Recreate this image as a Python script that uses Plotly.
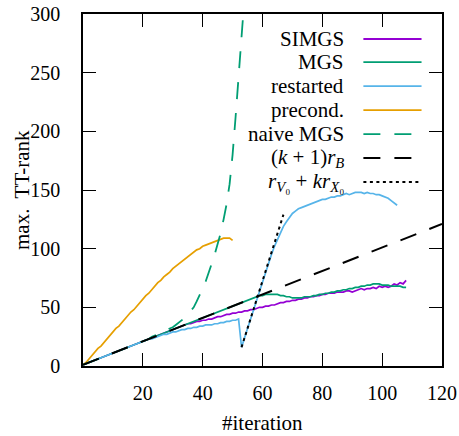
import plotly.graph_objects as go

# ---------------- data ----------------
simgs = [1, 2, 3, 4, 5, 6, 7, 8, 9, 10, 11, 12, 13, 14, 15, 16, 17, 18, 19, 20,
         21, 22, 23, 24, 25, 26, 27, 28, 29, 30, 31, 32, 33, 34, 35,
         36, 36, 37, 38, 38, 39, 39, 40, 40, 41, 42, 42, 43, 44, 44,
         45, 45, 46, 46, 47, 47, 48, 48, 49, 50, 50, 51, 51, 52, 52,
         53, 54, 54, 55, 55, 56, 56, 57, 57, 58, 58, 59, 59, 60, 60,
         61, 61, 62, 62, 62, 63, 63, 63, 64, 64, 63, 64, 65, 66, 65,
         66, 66, 67, 66, 68, 67, 68, 67, 68, 70, 69, 71, 70, 73]

mgs = [1, 2, 3, 4, 5, 6, 7, 8, 9, 10, 11, 12, 13, 14, 15, 16, 17, 18, 19, 20,
       21, 22, 23, 24, 25, 26, 27, 28, 29, 30, 31, 32, 33, 34, 35, 36, 37, 38,
       39, 40, 41, 42, 43, 44, 45, 46, 47, 48, 49, 50, 51, 52, 53,
       54, 55, 56, 57, 58, 59, 60, 60, 61, 61, 61, 61, 61, 60, 60, 59, 59,
       58, 58, 58, 58, 59, 59, 59, 60, 60, 61, 61, 62, 62, 63, 63, 64, 64,
       65, 65, 66, 66, 67, 67, 68, 68, 69, 69, 70, 70, 70, 69, 69, 69, 68,
       68, 68, 68, 67, 67]

restarted = [1, 2, 3, 4, 5, 6, 7, 8, 9, 10, 11, 12, 13, 14, 15, 16, 17, 18, 19, 20,
             21, 22, 23, 23, 24, 25, 26, 27, 27, 28, 29, 29, 30, 31, 31, 32, 32,
             33, 33, 34, 34, 35, 35, 35, 36, 36, 37, 37, 38, 38, 39, 39, 40,
             16, 24, 32, 40, 48, 57, 65, 73, 80, 88, 95, 102, 108, 114, 119,
             123, 127, 130, 132, 134, 135, 136, 137, 138, 139, 140, 141, 142,
             142, 143, 144, 144, 145, 145, 146, 147, 146, 147, 148, 148, 148,
             147, 148, 147, 147, 146, 146, 145, 144, 143, 141, 139, 137]

precond = [1, 3, 6, 9, 12, 15, 17, 20, 23, 26, 29, 32, 34, 37, 40, 43, 46, 48,
           51, 54, 57, 60, 62, 65, 68, 71, 73, 76, 78, 80, 83, 85, 87, 89, 91,
           93, 95, 97, 99, 100, 102, 103, 104, 105, 106, 107, 108, 109, 109,
           109, 107]

naive = [1, 2, 3, 4, 5, 6, 7, 8, 9, 10, 11, 12, 13, 14, 15, 16, 17, 18, 19, 20,
         21, 22, 23, 25, 26, 27, 28, 29, 30, 32, 33, 35, 37, 39, 41, 44, 47,
         50, 55, 60, 66, 72, 79, 87, 95, 104, 113, 125, 138, 155, 180, 212,
         250, 285, 315]

bound_k = [0, 120]
bound_vals = [1, 121]

restart_k = [53, 67]
restart_vals = [16, 129]

x_ticks = [20, 40, 60, 80, 100, 120]
y_ticks = [0, 50, 100, 150, 200, 250, 300]

legend_labels = ["SIMGS", "MGS", "restarted", "precond.", "naive MGS",
                 "(<i>k</i> + 1)<i>r</i><sub><i>B</i></sub>",
                 "<i>r</i><sub><i>V</i>₀</sub> + <i>kr</i><sub><i>X</i>₀</sub>"]

# ---------------- styles ----------------
PURPLE = "#9400d3"
GREEN = "#009e73"
BLUE = "#56b4e9"
ORANGE = "#e69f00"
DASH = "17px,14px"
DOT = "3px,3.5px"
FONT = "Liberation Serif"

series = [
    (simgs, dict(color=PURPLE, width=1.7)),
    (mgs, dict(color=GREEN, width=1.7)),
    (restarted, dict(color=BLUE, width=1.7)),
    (precond, dict(color=ORANGE, width=1.7)),
    (naive, dict(color=GREEN, width=1.8, dash=DASH)),
]

fig = go.Figure()
for vals, line in series:
    fig.add_trace(go.Scatter(x=list(range(len(vals))), y=vals, mode="lines",
                             line=line, showlegend=False, hoverinfo="skip"))
fig.add_trace(go.Scatter(x=bound_k, y=bound_vals, mode="lines",
                         line=dict(color="black", width=2, dash=DASH),
                         showlegend=False, hoverinfo="skip"))
fig.add_trace(go.Scatter(x=restart_k, y=restart_vals, mode="lines",
                         line=dict(color="black", width=2, dash=DOT),
                         showlegend=False, hoverinfo="skip"))

# ---------------- manual legend (gnuplot style) ----------------
legend_styles = [
    dict(color=PURPLE, width=1.8),
    dict(color=GREEN, width=1.8),
    dict(color=BLUE, width=1.8),
    dict(color=ORANGE, width=1.8),
    dict(color=GREEN, width=1.8, dash=DASH),
    dict(color="black", width=2, dash=DASH),
    dict(color="black", width=2, dash=DOT),
]
row_y = [0.929, 0.863, 0.795, 0.727, 0.659, 0.591, 0.523]
annotations = []
shapes = []
for lbl, st, yy in zip(legend_labels, legend_styles, row_y):
    annotations.append(dict(x=0.732, y=yy, xref="paper", yref="paper",
                            text=lbl, showarrow=False, xanchor="right",
                            yanchor="middle", font=dict(family=FONT, size=21, color="black")))
    shapes.append(dict(type="line", xref="paper", yref="paper",
                       x0=0.781, x1=0.943, y0=yy, y1=yy, line=st))

annotations.append(dict(x=0.5, y=-0.162, xref="paper", yref="paper",
                        text="#iteration", showarrow=False, xanchor="center",
                        yanchor="middle", font=dict(family=FONT, size=21, color="black")))
annotations.append(dict(x=-0.17, y=0.5, xref="paper", yref="paper",
                        text="max.  TT-rank", showarrow=False, textangle=-90,
                        xanchor="center", yanchor="middle",
                        font=dict(family=FONT, size=21, color="black")))

axis_common = dict(showline=True, linecolor="black", linewidth=1.5, mirror="ticks",
                   ticks="inside", ticklen=13, tickwidth=1.2, tickcolor="black",
                   showgrid=False, zeroline=False, automargin=False,
                   ticklabeloverflow="allow",
                   tickfont=dict(family=FONT, size=20, color="black"))

fig.update_layout(
    template="none",
    font=dict(family=FONT, size=20, color="black"),
    width=459, height=436,
    margin=dict(l=83, r=17, t=14, b=70, autoexpand=False),
    plot_bgcolor="white", paper_bgcolor="white",
    xaxis=dict(range=[0, 120], tickvals=x_ticks, ticklabelstandoff=8, **axis_common),
    yaxis=dict(range=[0, 300], tickvals=y_ticks, ticklabelstandoff=17, **axis_common),
    annotations=annotations, shapes=shapes,
    showlegend=False,
)

fig.write_html("out.html", config={"displayModeBar": False},
               post_script="document.body.style.margin='0px';document.body.style.padding='0px';")
